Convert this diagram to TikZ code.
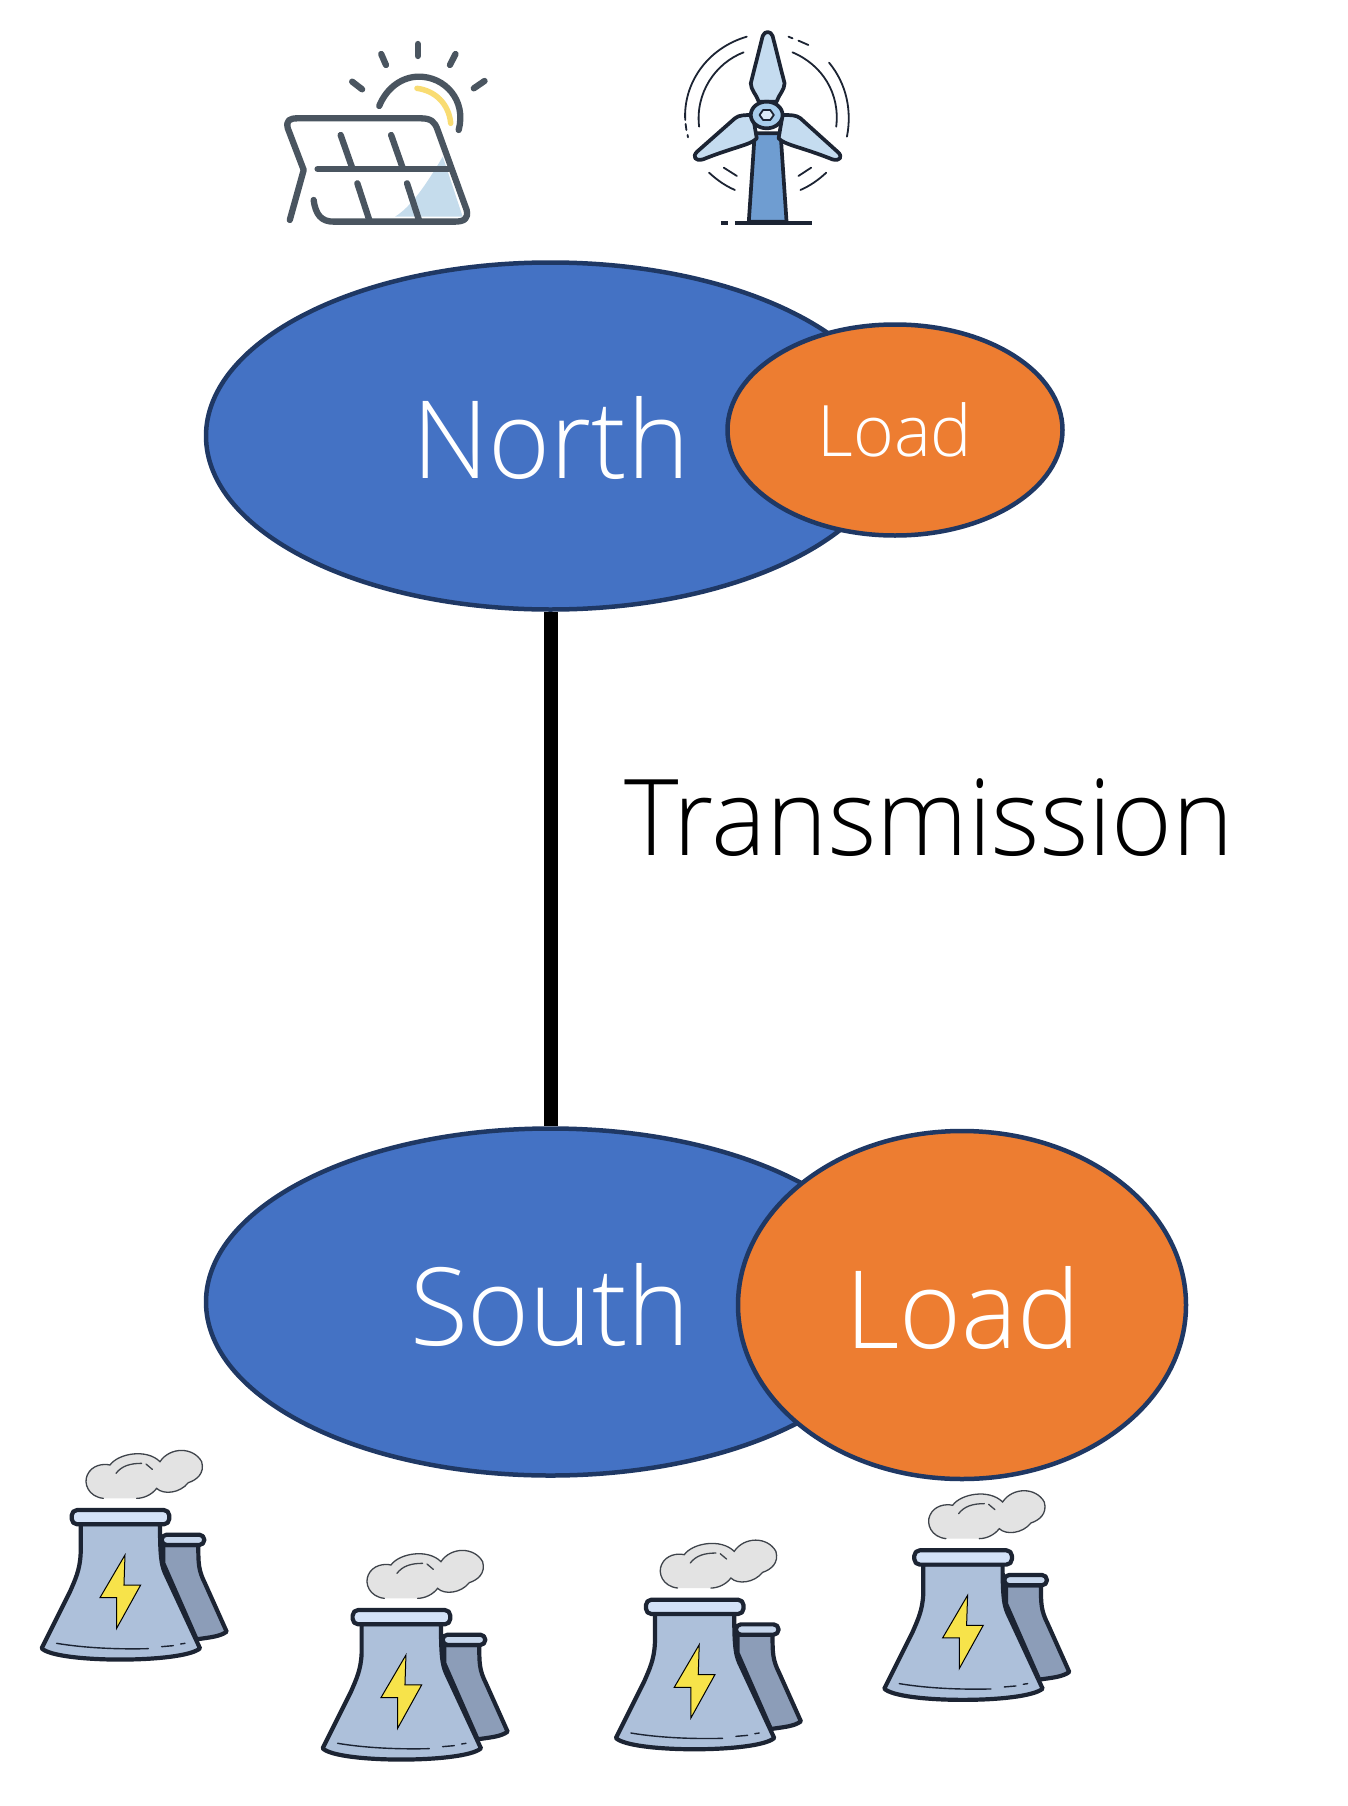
\documentclass[tikz,border=0pt]{standalone}
\usepackage{fontspec}
\usetikzlibrary{shapes.geometric}
\setmainfont{Open Sans}[UprightFont=* Light,FakeStretch=0.98]
\definecolor{regblue}{HTML}{4472C4}
\definecolor{loadorange}{HTML}{ED7D31}
\definecolor{edgeblue}{HTML}{1F3864}
\definecolor{ink}{HTML}{1C2433}
\definecolor{slate}{HTML}{4A5560}
\definecolor{MyRear}{HTML}{8C9DB8}
\definecolor{MyRim}{HTML}{C6D6EC}
\definecolor{MyBody}{HTML}{ADC0DA}
\definecolor{MyRimLight}{HTML}{D3E2F8}
\definecolor{MyBolt}{HTML}{F7E34A}
\definecolor{MyCloud}{HTML}{E3E3E3}
\definecolor{MyCloudEdge}{HTML}{3F444B}
\definecolor{MyWedge}{HTML}{C5DCEC}
\definecolor{MyYellow}{HTML}{F9DC72}
\definecolor{MyTower}{HTML}{6F9DD1}
\definecolor{MyBlade}{HTML}{C5DCF0}
\definecolor{MyHub}{HTML}{A8CDEC}
\definecolor{MyHubIn}{HTML}{DCEBF7}
\tikzset{
 region/.style={ellipse,draw=edgeblue,line width=4.5pt,fill=regblue,inner sep=0pt},
 loadnode/.style={ellipse,draw=edgeblue,line width=4.5pt,fill=loadorange,inner sep=0pt},
 lab/.style={anchor=base,inner sep=0pt,text=white},
 tower/.style={draw=ink,line width=4.2pt,line join=round},
 fine/.style={draw=ink,line width=1.4pt,line cap=round},
 cloudline/.style={draw=MyCloudEdge,line width=1.3pt,line cap=round},
 sol/.style={draw=slate,line width=6.3pt,line cap=round,line join=round},
 wnd/.style={draw=ink,line width=3.7pt,line join=round},
 wfine/.style={draw=ink,line width=1.8pt,line cap=round},
 plantscale/.style={x=0.3333pt,y=-0.3333pt},
 plant/.pic={
  \draw[tower,fill=MyRear] (430,345) -- (535,345) .. controls (535,400) and (535,420) .. (555,460) -- (620,605) .. controls (600,620) and (570,622) .. (530,628) -- (430,400) -- cycle;
  \draw[tower,fill=MyRim,rounded corners=5pt] (425,314) -- (553,314) -- (553,345) -- (425,345) -- cycle;
  \draw[tower,fill=MyBody] (182,282) -- (182,370) .. controls (180,420) and (165,450) .. (150,485) -- (65,655) .. controls (110,700) and (490,700) .. (540,655) -- (440,440) .. controls (425,410) and (420,390) .. (420,282) -- cycle;
  \draw[tower,fill=MyRimLight,rounded corners=5.5pt] (155,240) -- (448,240) -- (448,283) -- (155,283) -- cycle;
  \draw[fine] (110,640) .. controls (200,655) and (300,658) .. (385,656);
  \draw[fine] (425,650) -- (460,647);
  \draw[fine] (482,642) -- (495,640);
  \draw[draw=black,line width=1pt,line join=miter,fill=MyBolt] (315,375) -- (240,503) -- (290,503) -- (290,595) -- (362,465) -- (312,465) -- cycle;
  \fill[MyCloud] (250,205) .. controls (205,200) and (190,160) .. (202,135) .. controls (215,105) and (250,100) .. (270,105) .. controls (295,70) and (380,55) .. (420,95) .. controls (450,50) and (520,50) .. (545,95) .. controls (555,130) and (530,150) .. (505,158) .. controls (480,190) and (430,195) .. (410,175) .. controls (395,195) and (370,205) .. (350,205) -- cycle;
  \draw[cloudline] (250,205) .. controls (205,200) and (190,160) .. (202,135) .. controls (215,105) and (250,100) .. (270,105) .. controls (295,70) and (380,55) .. (420,95) .. controls (450,50) and (520,50) .. (545,95) .. controls (555,130) and (530,150) .. (505,158) .. controls (480,190) and (430,195) .. (410,175) .. controls (395,195) and (370,205) .. (350,205);
  \draw[cloudline] (288,130) .. controls (305,108) and (330,100) .. (365,100);
  \draw[cloudline] (378,102) -- (397,118);
 }
}
\begin{document}
\begin{tikzpicture}[x=1pt,y=-1pt]
\useasboundingbox (0,0) rectangle (1348,1806);
\fill[white] (0,0) rectangle (1348,1806);
\node[region,minimum width=689pt,minimum height=347pt] (north) at (550.5,436) {};
\node[region,minimum width=689pt,minimum height=347pt] (south) at (550.5,1302) {};
\draw[black,line width=14pt] (north.south) -- (south.north);
\node[lab,font=\fontsize{108}{108}\selectfont] (northt) at (551,478) {North};
\node[lab,font=\fontsize{108}{108}\selectfont] (southt) at (550,1345) {South};
\node[loadnode,minimum width=335pt,minimum height=211pt] (load1) at (895,430) {};
\node[loadnode,minimum width=448pt,minimum height=348pt] (load2) at (962,1305) {};
\node[lab,font=\fontsize{71}{71}\selectfont] (load1t) at (895,456) {Load};
\node[lab,font=\fontsize{108}{108}\selectfont] (load2t) at (963,1348) {Load};
\node[lab,text=black,font=\fontsize{106}{106}\selectfont] (trans) at (929,855) {Transmission};
\begin{scope}[shift={(20,1430)}]
\pic[plantscale] at (0,0) {plant};
\pic[plantscale] at (843,300) {plant};
\pic[plantscale] at (1722.9,269.1) {plant};
\pic[plantscale] at (2528.1,120.9) {plant};
\end{scope}
\begin{scope}[shift={(258,20)},x=0.3974pt,y=-0.3333pt]
\fill[MyWedge] (465,410) -- (515,590) -- (345,590) .. controls (385,560) and (420,500) .. (465,410) -- cycle;
\draw[draw=MyYellow,line width=5.5pt,line cap=round] (400,205) .. controls (445,212) and (480,250) .. (485,310);
\draw[sol] (80,600) -- (115,450) -- (75,325) .. controls (70,300) and (80,295) .. (100,295) -- (410,295) .. controls (435,295) and (445,305) .. (452,330) -- (525,570) .. controls (530,595) and (520,605) .. (495,605) -- (190,605) .. controls (160,605) and (145,585) .. (140,540);
\draw[sol] (150,447) -- (480,447);
\draw[sol] (208,345) -- (238,447);
\draw[sol] (335,345) -- (365,447);
\draw[sol] (250,490) -- (280,600);
\draw[sol] (375,490) -- (405,600);
\draw[sol] (305,258) .. controls (325,200) and (365,170) .. (405,170) .. controls (470,170) and (525,240) .. (505,330);
\draw[sol] (310,102) -- (322,135);
\draw[sol] (402,72) -- (402,108);
\draw[sol] (497,102) -- (483,135);
\draw[sol] (237,185) -- (262,208);
\draw[sol] (570,183) -- (543,205);
\draw[wnd,fill=MyTower] (1250,340) -- (1315,340) -- (1330,605) -- (1235,605) -- cycle;
\draw[wnd,fill=MyBlade] (1270,48) .. controls (1275,32) and (1290,32) .. (1295,48) -- (1325,190) .. controls (1325,210) and (1310,225) .. (1305,245) -- (1260,245) .. controls (1255,225) and (1240,210) .. (1240,190) -- cycle;
\draw[wnd,fill=MyBlade] (1105,395) -- (1200,295) .. controls (1210,285) and (1225,285) .. (1245,285) -- (1255,355) .. controls (1240,375) and (1200,380) .. (1120,418) .. controls (1100,425) and (1092,410) .. (1105,395) -- cycle;
\draw[wnd,fill=MyBlade] (1458,395) -- (1365,295) .. controls (1355,285) and (1340,285) .. (1320,285) -- (1310,355) .. controls (1325,375) and (1365,380) .. (1445,418) .. controls (1465,425) and (1473,410) .. (1458,395) -- cycle;
\draw[wnd,fill=MyHub] (1280,285) circle[radius=40];
\draw[wfine,fill=MyHubIn,line join=round] (1298,285) -- (1289,270) -- (1271,270) -- (1262,285) -- (1271,300) -- (1289,300) -- cycle;
\draw[ink,line width=4pt] (1200,610) -- (1395,610);
\draw[ink,line width=4pt] (1165,610) -- (1182,610);
\draw[wfine] (1230,50) .. controls (1130,85) and (1070,190) .. (1075,300);
\draw[wfine] (1076,312) -- (1078,330);
\draw[wfine] (1081,345) -- (1082,352);
\draw[wfine] (1222,97) .. controls (1150,130) and (1100,220) .. (1110,320);
\draw[wfine] (1345,97) .. controls (1420,135) and (1465,220) .. (1455,320);
\draw[wfine] (1437,128) .. controls (1480,190) and (1495,270) .. (1482,350);
\draw[wfine] (1335,50) -- (1345,55);
\draw[wfine] (1360,62) -- (1385,75);
\draw[wfine] (1135,458) .. controls (1155,480) and (1175,497) .. (1200,510);
\draw[wfine] (1172,443) -- (1205,468);
\draw[wfine] (1430,458) .. controls (1410,480) and (1390,497) .. (1365,510);
\draw[wfine] (1392,443) -- (1360,468);
\end{scope}
\end{tikzpicture}
\end{document}
